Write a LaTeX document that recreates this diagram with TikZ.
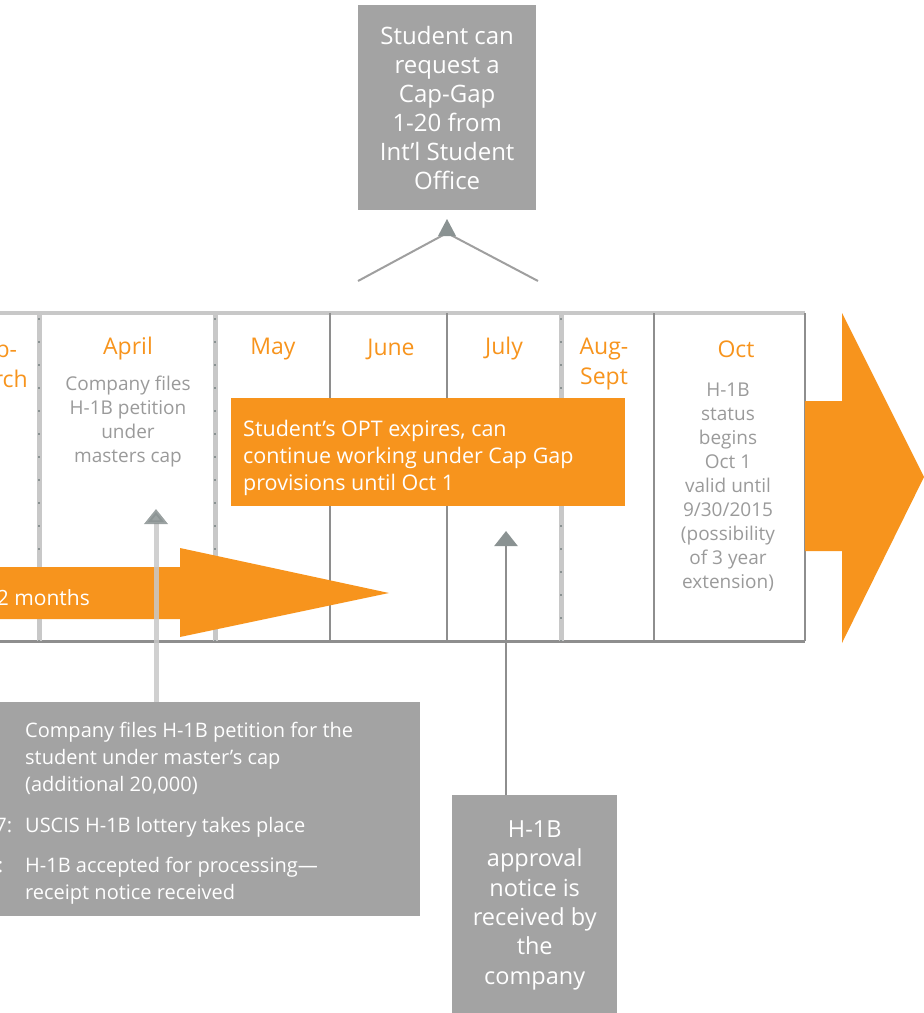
\documentclass[tikz,border=0pt]{standalone}
\usepackage{fontspec}
\setmainfont{Open Sans}
\usetikzlibrary{arrows.meta}
\definecolor{org}{HTML}{F7941D}
\definecolor{lgray}{HTML}{C8C8C8}
\definecolor{dgray}{HTML}{8E8E8E}
\definecolor{boxgray}{HTML}{A3A3A3}
\definecolor{txtgray}{HTML}{9A9A9A}
\definecolor{tipgray}{HTML}{8A9292}
\begin{document}
\begin{tikzpicture}[x=1pt,y=-1pt,
  month/.style={text=org,font=\fontsize{23}{30}\selectfont,align=center,inner sep=0},
  note/.style={text=txtgray,font=\fontsize{19}{24}\selectfont,align=center,inner sep=0},
  graybox/.style={fill=boxgray,text=white,align=center,inner sep=0},
  lightdiv/.style={lgray,line width=5},
  darkdiv/.style={dgray,line width=2.5},
  uparrow/.style={-{Triangle[length=15pt,width=23pt,color=tipgray]}}]
\useasboundingbox (0,0) rectangle (924,1013);
\clip (0,0) rectangle (924,1013);
% frame
\draw[lgray,line width=4] (-20,313) -- (805,313);
\draw[dgray,line width=3] (-20,641) -- (805,641);
\foreach \x in {39,215,561}{
  \draw[lightdiv] (\x,313) -- (\x,641);
  \draw[tipgray,line width=2,dash pattern=on 2pt off 21pt] (\x,318) -- (\x,641);}
\foreach \x in {330,447,654,805}{\draw[darkdiv] (\x,313) -- (\x,641);}
% months
\node[month] (feb) at (-6,364) {Feb-\\March};
\node[month] (apr) at (128,349) {April};
\node[month] (may) at (273,349) {May};
\node[month] (jun) at (391,349) {June};
\node[month] (jul) at (504,349) {July};
\node[month] (aug) at (604,364) {Aug-\\Sept};
\node[month] (oct) at (736,349) {Oct};
\node[note] (aprnote) at (128,422) {Company files\\H-1B petition\\under\\masters cap};
\node[note] (octnote) at (728,487) {H-1B\\status\\begins\\Oct 1\\valid until\\9/30/2015\\(possibility\\of 3 year\\extension)};
% big right arrow
\fill[org] (805,401) -- (842,401) -- (842,313) -- (924,477) -- (842,643) -- (842,551) -- (805,551) -- cycle;
% lower-left arrow
\fill[org] (-20,567) -- (180,567) -- (180,548) -- (389,593) -- (180,637) -- (180,619) -- (-20,619) -- cycle;
\node[text=white,font=\fontsize{21}{25}\selectfont,anchor=east,inner sep=0] (months) at (90,598) {12 months};
% orange box
\node[fill=org,minimum width=394,minimum height=108,anchor=north west,inner sep=0] (opt) at (231,398) {};
\node[text=white,font=\fontsize{21.5}{27}\selectfont,align=left,anchor=west,inner sep=0] (opttext) at (243,458)
  {Student’s OPT expires, can\\continue working under Cap Gap\\provisions until Oct 1};
% top box
\node[graybox,font=\fontsize{24}{29}\selectfont,minimum width=178,minimum height=205,anchor=north west] (capgap) at (358,5)
  {Student can\\request a\\Cap-Gap\\1-20 from\\Int’l Student\\Office};
\coordinate (apex) at (447,233);
\draw[gray!75,line width=2] (358,281) -- (apex) -- (538,281);
\fill[tipgray] (447,219) -- (438,236) -- (456,236) -- cycle;
% bottom-left box
\node[fill=boxgray,minimum width=440,minimum height=214,anchor=north west,inner sep=0] (lbox) at (-20,702) {};
\node[text=white,font=\fontsize{20}{27}\selectfont,align=left,anchor=north west,inner sep=0] (ltext) at (25,722)
  {Company files H-1B petition for the\\student under master’s cap\\(additional 20,000)\\[14pt]
   \llap{7:\hspace{13pt}}USCIS H-1B lottery takes place\\[13pt]
   \llap{:\hspace{22pt}}H-1B accepted for processing—\\receipt notice received};
% bottom-middle box
\node[graybox,font=\fontsize{23.5}{29.4}\selectfont,minimum width=165,minimum height=220,anchor=north west] (approval) at (452,795)
  {H-1B\\approval\\notice is\\received by\\the\\company};
% connectors
\coordinate (aprtip) at (156,509);
\coordinate (jultip) at (506,531);
\draw[uparrow,lgray,line width=5,opacity=0.85] (lbox.north -| aprtip) -- (aprtip);
\draw[uparrow,dgray,line width=2.5] (approval.north -| jultip) -- (jultip);
\end{tikzpicture}
\end{document}
